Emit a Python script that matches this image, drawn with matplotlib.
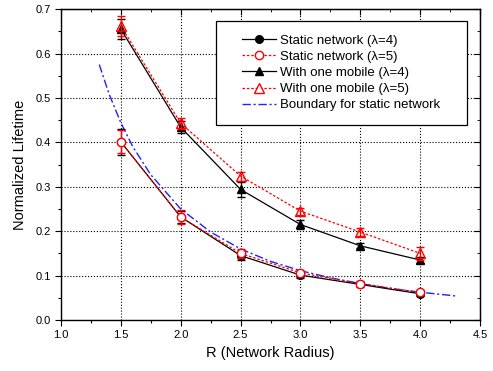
import matplotlib.pyplot as plt
from matplotlib.lines import Line2D
from matplotlib.patches import Rectangle
from matplotlib.ticker import MultipleLocator

plt.rcParams['font.family'] = ['Liberation Sans', 'DejaVu Sans']

# radius values
R = [1.5, 2.0, 2.5, 3.0, 3.5, 4.0]

# static network
static4 = [0.401, 0.232, 0.145, 0.101, 0.080, 0.059]
static4_err = [0.030, 0.014, 0.010, 0.007, 0.005, 0.005]
static5 = [0.401, 0.232, 0.150, 0.106, 0.082, 0.062]
static5_err = [0.026, 0.016, 0.010, 0.006, 0.005, 0.006]

# with one mobile
mobile4 = [0.655, 0.434, 0.294, 0.215, 0.167, 0.135]
mobile4_err = [0.023, 0.014, 0.017, 0.010, 0.006, 0.007]
mobile5 = [0.662, 0.443, 0.324, 0.245, 0.198, 0.150]
mobile5_err = [0.023, 0.012, 0.010, 0.008, 0.008, 0.015]

# boundary curve
bound_x = [1.32, 1.4, 1.5, 1.6, 1.75, 2.0, 2.25, 2.5, 2.75, 3.0, 3.25, 3.5, 3.75, 4.0, 4.3]
bound_y = [0.575, 0.51, 0.444, 0.39, 0.327, 0.25, 0.198, 0.160, 0.132, 0.111,
           0.095, 0.082, 0.071, 0.0625, 0.054]

labels = ['Static network (\u03bb=4)', 'Static network (\u03bb=5)',
          'With one mobile (\u03bb=4)', 'With one mobile (\u03bb=5)',
          'Boundary for static network']

red_dash = (0, (2, 1.5))
blue_dashdot = (0, (6, 2, 1.5, 2))

fig = plt.figure(figsize=(4.93, 3.71), dpi=100)
ax = fig.add_axes([0.1237, 0.1375, 0.85, 0.838])

ax.plot(bound_x, bound_y, color='#2020ff', linestyle=blue_dashdot, lw=1.0, zorder=2)

ax.errorbar(R, static4, yerr=static4_err, color='black', lw=0.9, marker='o', ms=5.5,
            capsize=3, elinewidth=0.9, zorder=3)
ax.errorbar(R, static5, yerr=static5_err, color='red', lw=0.9, ls=red_dash,
            marker='o', ms=6, mfc='white', mec='red', capsize=3, elinewidth=0.9, zorder=4)
ax.errorbar(R, mobile4, yerr=mobile4_err, color='black', lw=0.9, marker='^', ms=6,
            capsize=3, elinewidth=0.9, zorder=3)
ax.errorbar(R, mobile5, yerr=mobile5_err, color='red', lw=0.9, ls=red_dash,
            marker='^', ms=7, mfc='none', mec='red', capsize=3, elinewidth=0.9, zorder=4)

ax.set_xlim(1.0, 4.5)
ax.set_ylim(0.0, 0.7)
ax.xaxis.set_major_locator(MultipleLocator(0.5))
ax.xaxis.set_minor_locator(MultipleLocator(0.25))
ax.yaxis.set_major_locator(MultipleLocator(0.1))
ax.yaxis.set_minor_locator(MultipleLocator(0.05))
ax.xaxis.set_major_formatter(plt.FormatStrFormatter('%.1f'))
ax.yaxis.set_major_formatter(plt.FormatStrFormatter('%.1f'))
ax.tick_params(which='both', direction='out', labelsize=8, width=0.8)
ax.tick_params(which='major', length=4)
ax.tick_params(which='minor', length=2.5)
ax.grid(True, which='major', color='black', ls=':', lw=0.8)
for s in ax.spines.values():
    s.set_linewidth(1.0)

# mirrored ticks on top and right pointing inward
sec = ax.secondary_xaxis('top')
sec.xaxis.set_major_locator(MultipleLocator(0.5))
sec.xaxis.set_minor_locator(MultipleLocator(0.25))
sec.tick_params(which='both', direction='in', labeltop=False)
sec.tick_params(which='major', length=4)
sec.tick_params(which='minor', length=2.5)
secy = ax.secondary_yaxis('right')
secy.yaxis.set_major_locator(MultipleLocator(0.1))
secy.yaxis.set_minor_locator(MultipleLocator(0.05))
secy.tick_params(which='both', direction='in', labelright=False)
secy.tick_params(which='major', length=4)
secy.tick_params(which='minor', length=2.5)

ax.set_xlabel('R (Network Radius)', fontsize=10.5, labelpad=4)
ax.set_ylabel('Normalized Lifetime', fontsize=10.5, labelpad=6)

# legend box drawn by hand, entries centred inside it
box = Rectangle((0.369, 0.627), 0.599, 0.335, transform=ax.transAxes,
                facecolor='white', edgecolor='black', lw=0.9, zorder=5)
ax.add_patch(box)

handles = [
    Line2D([], [], color='black', lw=0.9, marker='o', ms=5.5),
    Line2D([], [], color='red', lw=0.9, ls=red_dash, marker='o', ms=6, mfc='white'),
    Line2D([], [], color='black', lw=0.9, marker='^', ms=6),
    Line2D([], [], color='red', lw=0.9, ls=red_dash, marker='^', ms=7, mfc='white'),
    Line2D([], [], color='#2020ff', lw=1.0, ls=blue_dashdot),
]
leg = ax.legend(handles, labels, loc='center', bbox_to_anchor=(0.6685, 0.7945),
                fontsize=9.5, frameon=False, handlelength=2.6, handletextpad=0.3,
                borderpad=0, labelspacing=0.3, borderaxespad=0)
leg.set_zorder(6)

fig.savefig('out.png', dpi=100)
